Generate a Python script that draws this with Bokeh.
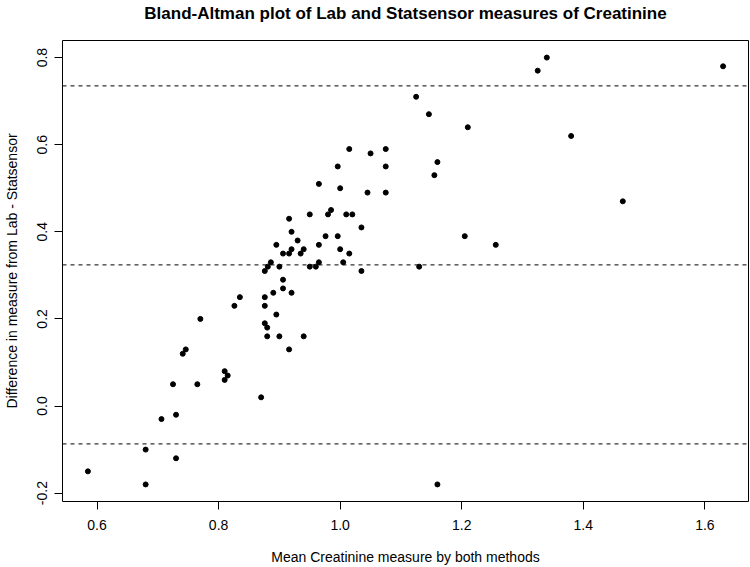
from bokeh.plotting import figure
from bokeh.models import Range1d, Span, FixedTicker, LinearAxis
from bokeh.embed import file_html
from bokeh.resources import INLINE

# Mean of the two methods (x) and difference Lab - Statsensor (y)
mean_creatinine = [
    0.585, 0.68, 0.68, 0.706, 0.73, 0.73, 0.725, 0.741, 0.746, 0.765,
    0.77, 0.81, 0.81, 0.815, 0.826, 0.835, 0.87, 0.876, 0.881, 0.886,
    0.90, 0.895, 0.876, 0.876, 0.89, 0.895, 0.876, 0.88, 0.88, 0.90,
    0.916, 0.94, 0.906, 0.906, 0.92, 0.906, 0.916, 0.916, 0.92, 0.92,
    0.93, 0.935, 0.94, 0.95, 0.95, 0.96, 0.965, 0.965, 0.976, 0.98,
    0.985, 0.996, 1.0, 1.005, 1.01, 1.015, 1.02, 1.035, 1.035, 0.965,
    0.996, 1.0, 1.015, 1.05, 1.045, 1.075, 1.075, 1.075, 1.125, 1.13,
    1.146, 1.155, 1.16, 1.16, 1.205, 1.21, 1.256, 1.325, 1.34, 1.38,
    1.465, 1.63,
]
difference = [
    -0.15, -0.18, -0.10, -0.03, -0.02, -0.12, 0.05, 0.12, 0.13, 0.05,
    0.20, 0.08, 0.06, 0.07, 0.23, 0.25, 0.02, 0.31, 0.32, 0.33,
    0.32, 0.37, 0.25, 0.23, 0.26, 0.21, 0.19, 0.18, 0.16, 0.16,
    0.13, 0.16, 0.29, 0.27, 0.26, 0.35, 0.35, 0.43, 0.40, 0.36,
    0.38, 0.35, 0.36, 0.44, 0.32, 0.32, 0.37, 0.33, 0.39, 0.44,
    0.45, 0.39, 0.36, 0.33, 0.44, 0.35, 0.44, 0.41, 0.31, 0.51,
    0.55, 0.50, 0.59, 0.58, 0.49, 0.59, 0.55, 0.49, 0.71, 0.32,
    0.67, 0.53, 0.56, -0.18, 0.39, 0.64, 0.37, 0.77, 0.80, 0.62,
    0.47, 0.78,
]

# Bias and limits of agreement (mean difference +/- 1.96 SD)
bias = 0.324
upper_loa = 0.735
lower_loa = -0.087

x_ticks = [0.6, 0.8, 1.0, 1.2, 1.4, 1.6]
x_tick_labels = ["0.6", "0.8", "1.0", "1.2", "1.4", "1.6"]
y_ticks = [-0.2, 0.0, 0.2, 0.4, 0.6, 0.8]
y_tick_labels = ["-0.2", "0.0", "0.2", "0.4", "0.6", "0.8"]

title_text = "Bland-Altman plot of Lab and Statsensor measures of Creatinine"
x_label = "Mean Creatinine measure by both methods"
y_label = "Difference in measure from Lab - Statsensor"

FONT = "Liberation Sans"


def padded(vals, frac=0.04):
    lo, hi = min(vals), max(vals)
    d = (hi - lo) * frac
    return lo - d, hi + d


xlo, xhi = padded(mean_creatinine)
ylo, yhi = padded(difference)

p = figure(
    width=750, height=567,
    output_backend="svg", toolbar_location=None,
    x_range=Range1d(xlo, xhi), y_range=Range1d(ylo, yhi),
    min_border_left=62, min_border_right=2, min_border_top=38, min_border_bottom=66,
    background_fill_color="white", border_fill_color="white",
)
p.title.text = ""

p.grid.visible = False
p.outline_line_color = "black"
p.outline_line_width = 1
p.outline_line_alpha = 1

xax = p.below[0]
yax = p.left[0]

for ax in (xax, yax):
    ax.axis_line_color = None
    ax.major_tick_line_color = "black"
    ax.major_tick_out = 8
    ax.major_tick_in = 0
    ax.minor_tick_line_color = None
    ax.major_label_text_font = FONT
    ax.major_label_text_font_size = "14px"
    ax.major_label_text_color = "black"
    ax.axis_label_text_font = FONT
    ax.axis_label_text_font_size = "14px"
    ax.axis_label_text_font_style = "normal"
    ax.axis_label_text_color = "black"

xax.axis_label = x_label
xax.ticker = FixedTicker(ticks=x_ticks)
xax.major_label_overrides = dict(zip(x_ticks, x_tick_labels))
xax.major_label_standoff = 10
xax.axis_label_standoff = 16

yax.axis_label = y_label
yax.ticker = FixedTicker(ticks=y_ticks)
yax.major_label_overrides = dict(zip(y_ticks, y_tick_labels))
yax.major_label_orientation = "vertical"
yax.major_label_standoff = 7
yax.axis_label_standoff = 15

# Main title: carried by a bare axis above the plotting region
title_axis = LinearAxis(
    axis_label=title_text, ticker=FixedTicker(ticks=[]),
    axis_line_color=None, major_tick_line_color=None, minor_tick_line_color=None,
    major_tick_out=0, major_tick_in=0, minor_tick_out=0, minor_tick_in=0,
    major_label_standoff=0, axis_label_standoff=18,
    axis_label_text_font=FONT, axis_label_text_font_size="17px",
    axis_label_text_font_style="bold", axis_label_text_color="black",
)
p.add_layout(title_axis, "above")

for level in (upper_loa, bias, lower_loa):
    p.add_layout(Span(location=level, dimension="width", line_color="black",
                      line_width=1, line_dash="4 4"))

p.scatter(mean_creatinine, difference, size=5, color="black", marker="circle")

open("out.html", "w").write(file_html(p, INLINE))
